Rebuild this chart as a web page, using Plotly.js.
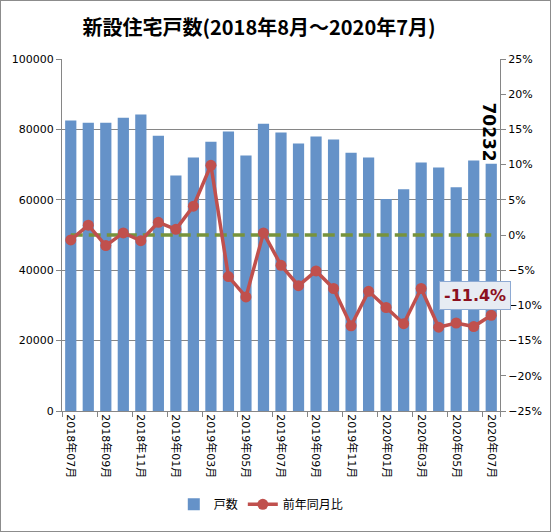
<!DOCTYPE html>
<html>
<head>
<meta charset="utf-8">
<script src="https://cdn.plot.ly/plotly-3.0.1.min.js"></script>
<style>
  body { margin: 0; background: #fff; }
  #chart { width: 551px; height: 532px; box-sizing: border-box; border: 1px solid #8c8c8c; }
</style>
</head>
<body>
<div id="chart"></div>
<script>
var months = ['2018年07月', '2018年08月', '2018年09月', '2018年10月', '2018年11月', '2018年12月',
    '2019年01月', '2019年02月', '2019年03月', '2019年04月', '2019年05月', '2019年06月',
    '2019年07月', '2019年08月', '2019年09月', '2019年10月', '2019年11月', '2019年12月',
    '2020年01月', '2020年02月', '2020年03月', '2020年04月', '2020年05月', '2020年06月', '2020年07月'];

var houses = [82500, 81900, 81900, 83300, 84200, 78200, 66900, 72000, 76500, 79400, 72600, 81600,
    79100, 76000, 78000, 77100, 73400, 72000, 60200, 63000, 70600, 69200, 63600, 71200, 70232];

var yoy = [-0.7, 1.4, -1.5, 0.3, -0.8, 1.8, 0.8, 4.1, 9.9, -5.9, -8.8, 0.3,
    -4.3, -7.2, -5.1, -7.6, -12.9, -8.0, -10.3, -12.6, -7.6, -13.1, -12.5, -13.0, -11.4];

var zeroLine = months.map(function () { return 0; });
var tickMonths = months.filter(function (m, i) { return i % 2 === 0; });

var font = 'DejaVu Sans, "Noto Sans CJK JP", sans-serif';

var data = [{
    x: months,
    y: houses,
    name: '戸数',
    type: 'bar',
    marker: { color: '#6592c8' },
    hoverinfo: 'x+y'
}, {
    x: months,
    y: zeroLine,
    yaxis: 'y2',
    type: 'scatter',
    mode: 'lines',
    line: { color: '#77933c', width: 3.5, dash: '12px,6px' },
    showlegend: false,
    hoverinfo: 'skip'
}, {
    x: months,
    y: yoy.map(function (v) { return v / 100; }),
    name: '前年同月比',
    yaxis: 'y2',
    type: 'scatter',
    mode: 'lines+markers',
    line: { color: '#c0504d', width: 3.5 },
    marker: { color: '#c0504d', size: 11 }
}];

var layout = {
    width: 549,
    height: 530,
    margin: { l: 61, r: 50, t: 58, b: 117 },
    paper_bgcolor: '#fff',
    plot_bgcolor: '#fff',
    font: { family: font, size: 11, color: '#000' },
    title: {
        text: '<b>新設住宅戸数(2018年8月～2020年7月)</b>',
        font: { family: '"Noto Sans CJK JP", sans-serif', size: 20, color: '#000' },
        x: 0.47,
        xanchor: 'center',
        y: 0.95,
        yanchor: 'middle'
    },
    bargap: 0.36,
    showlegend: true,
    legend: {
        orientation: 'h',
        x: 0.455,
        xanchor: 'center',
        y: -0.265,
        yanchor: 'middle',
        font: { family: '"Noto Sans CJK JP", sans-serif', size: 12 },
        itemwidth: 30
    },
    xaxis: {
        type: 'category',
        range: [-0.5, months.length - 0.5],
        autorange: false,
        tickmode: 'array',
        tickvals: tickMonths,
        ticktext: tickMonths,
        tickangle: 90,
        tickson: 'boundaries',
        ticks: 'outside',
        ticklen: 5,
        tickcolor: '#868686',
        showline: true,
        linecolor: '#868686',
        showgrid: false,
        tickfont: { size: 11 }
    },
    yaxis: {
        range: [0, 100000],
        dtick: 20000,
        tickformat: 'd',
        ticks: 'outside',
        ticklen: 5,
        tickcolor: '#868686',
        showline: true,
        linecolor: '#868686',
        showgrid: true,
        gridcolor: '#868686',
        zeroline: false
    },
    yaxis2: {
        overlaying: 'y',
        side: 'right',
        range: [-0.25, 0.25],
        dtick: 0.05,
        tickformat: '.0%',
        ticks: 'outside',
        ticklen: 5,
        tickcolor: '#868686',
        showline: true,
        linecolor: '#868686',
        showgrid: false,
        zeroline: false
    },
    annotations: [{
        x: months[months.length - 1],
        y: houses[houses.length - 1],
        xref: 'x',
        yref: 'y',
        text: '<b>' + houses[houses.length - 1] + '</b>',
        textangle: 90,
        showarrow: false,
        yanchor: 'middle',
        yshift: 32,
        xshift: -2,
        font: { size: 17, color: '#000' }
    }, {
        x: 23.1,
        y: -0.086,
        xref: 'x',
        yref: 'y2',
        text: '<b>' + yoy[yoy.length - 1].toFixed(1) + '%</b>',
        showarrow: false,
        font: { size: 16, color: '#8b1020' },
        bgcolor: '#e7ecf3',
        bordercolor: '#8eaad3',
        borderwidth: 1,
        borderpad: 4
    }]
};

Plotly.newPlot('chart', data, layout, { displayModeBar: false });
</script>
</body>
</html>
